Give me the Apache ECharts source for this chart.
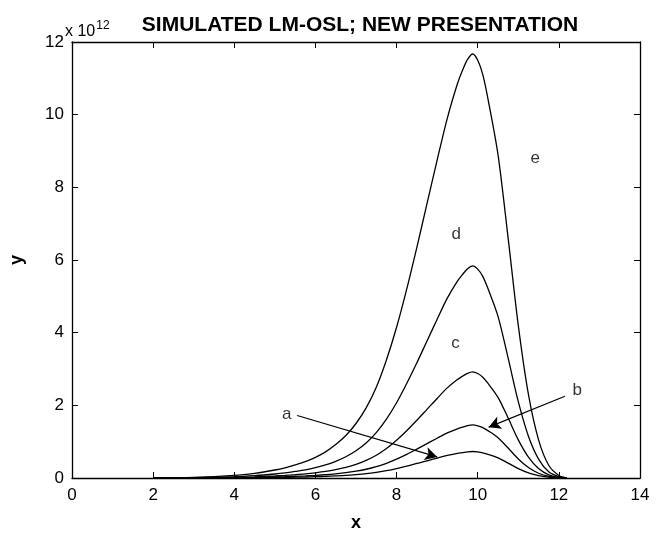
<!DOCTYPE html>
<html><head><meta charset="utf-8">
<script src="https://cdn.jsdelivr.net/npm/echarts@6/dist/echarts.min.js"></script>
<style>html,body{margin:0;padding:0;background:#fff}#c{width:659px;height:537px}</style>
</head><body><div id="c"></div>
<script>
// x positions (shared by all curves)
const xs = [2, 3, 4, 4.5, 5, 5.25, 5.5, 5.75, 6, 6.25, 6.5, 6.75, 7, 7.25, 7.5, 7.75, 8, 8.25, 8.5, 8.75, 9, 9.25, 9.5, 9.625, 9.75, 9.875, 10, 10.125, 10.25, 10.5, 10.75, 11, 11.25, 11.5, 11.75, 12, 12.2];
// y values in units of 10^12
const curveE = [0, 0.015, 0.07, 0.13, 0.22, 0.28, 0.36, 0.45, 0.57, 0.72, 0.92, 1.17, 1.5, 1.93, 2.5, 3.25, 4.15, 5.2, 6.35, 7.55, 8.75, 9.9, 10.85, 11.22, 11.52, 11.67, 11.5, 11.1, 10.45, 8.9, 6.6, 4.2, 2.3, 1.05, 0.35, 0.07, 0];
const curveD = [0, 0.008, 0.035, 0.065, 0.11, 0.14, 0.18, 0.225, 0.285, 0.36, 0.46, 0.585, 0.75, 0.965, 1.25, 1.62, 2.07, 2.6, 3.17, 3.77, 4.37, 4.95, 5.42, 5.6, 5.76, 5.84, 5.75, 5.55, 5.22, 4.45, 3.3, 2.1, 1.15, 0.52, 0.17, 0.035, 0];
const curveC = [0, 0.004, 0.018, 0.033, 0.055, 0.07, 0.09, 0.113, 0.143, 0.18, 0.23, 0.293, 0.375, 0.483, 0.625, 0.81, 1.04, 1.3, 1.59, 1.89, 2.19, 2.48, 2.71, 2.8, 2.88, 2.92, 2.875, 2.775, 2.61, 2.22, 1.65, 1.05, 0.575, 0.26, 0.085, 0.018, 0];
const curveB = [0, 0.002, 0.009, 0.016, 0.028, 0.035, 0.045, 0.056, 0.071, 0.09, 0.115, 0.146, 0.188, 0.241, 0.313, 0.405, 0.52, 0.65, 0.795, 0.945, 1.095, 1.24, 1.355, 1.4, 1.44, 1.46, 1.437, 1.387, 1.305, 1.11, 0.825, 0.525, 0.288, 0.13, 0.043, 0.009, 0];
const curveA = [0, 0.001, 0.0045, 0.008, 0.014, 0.018, 0.023, 0.028, 0.036, 0.045, 0.058, 0.073, 0.094, 0.12, 0.156, 0.2, 0.26, 0.325, 0.4, 0.47, 0.55, 0.62, 0.68, 0.7, 0.72, 0.73, 0.718, 0.693, 0.65, 0.555, 0.41, 0.26, 0.144, 0.065, 0.022, 0.005, 0];
// annotation labels [text, x, y]
const labels = [['a', 5.29, 1.75], ['b', 12.45, 2.4], ['c', 9.45, 3.71], ['d', 9.47, 6.7], ['e', 11.42, 8.8]];
// arrows [fromX, fromY, toX, toY]
const arrows = [[5.55, 1.72, 9.0, 0.58], [12.15, 2.25, 10.27, 1.4]];
const xTicks = {min: 0, max: 14, interval: 2};
const yTicks = {min: 0, max: 12, interval: 2};

const FONT = 'Liberation Sans, Arial, Helvetica, sans-serif';
const chart = echarts.init(document.getElementById('c'));
function pts(ys){ return xs.map((x,i)=>[x, ys[i]]); }
function curve(name, ys){
  return {name, type:'line', data: pts(ys), showSymbol:false, smooth:0.3,
    lineStyle:{color:'#000', width:1.3}, xAxisIndex:0, yAxisIndex:0, animation:false, silent:true, z:3};
}
const axisCommon = {
  axisLine:{show:true, onZero:false, lineStyle:{color:'#000', width:1.3}},
  axisTick:{show:true, inside:true, length:6, lineStyle:{color:'#000', width:1}},
  splitLine:{show:false}
};
const option = {
  backgroundColor:'#fff',
  animation:false,
  title:{text:'SIMULATED LM-OSL; NEW PRESENTATION', left:355, top:10, textAlign:'center',
    textStyle:{fontFamily:FONT, fontSize:21, fontWeight:'bold', color:'#000'}},
  grid:{left:71, right:19, top:42, bottom:49},
  xAxis:[
    Object.assign({type:'value', position:'bottom', min:xTicks.min, max:xTicks.max, interval:xTicks.interval,
      name:'x', nameLocation:'middle', nameGap:36,
      nameTextStyle:{fontFamily:FONT, fontSize:18, fontWeight:'bold', color:'#000'},
      axisLabel:{fontFamily:FONT, fontSize:17, color:'#000', margin:9}}, axisCommon),
    Object.assign({type:'value', position:'top', min:xTicks.min, max:xTicks.max, interval:xTicks.interval,
      axisLabel:{show:false}}, axisCommon)
  ],
  yAxis:[
    Object.assign({type:'value', position:'left', min:yTicks.min, max:yTicks.max, interval:yTicks.interval,
      name:'y', nameLocation:'middle', nameGap:46, nameRotate:90,
      nameTextStyle:{fontFamily:FONT, fontSize:18, fontWeight:'bold', color:'#000'},
      axisLabel:{fontFamily:FONT, fontSize:17, color:'#000', margin:8}}, axisCommon),
    Object.assign({type:'value', position:'right', min:yTicks.min, max:yTicks.max, interval:yTicks.interval,
      axisLabel:{show:false}}, axisCommon)
  ],
  graphic:[{type:'text', left:65, top:20, style:{
    text:'{b|x 10}{s|12}', fill:'#000',
    rich:{b:{fontFamily:FONT, fontSize:16, fill:'#000', padding:[6,0,0,0]}, s:{fontFamily:FONT, fontSize:12, fill:'#000', padding:[0,0,6,1]}}}}],
  series:[
    curve('e', curveE), curve('d', curveD), curve('c', curveC), curve('b', curveB), curve('a', curveA),
    {type:'scatter', data: labels.map(l=>({value:[l[1], l[2]], name:l[0]})), symbolSize:0, silent:true,
      label:{show:true, position:'inside', formatter:p=>p.name, fontFamily:FONT, fontSize:17, color:'#000'}, z:5},
    {type:'line', data:[], silent:true,
      markLine:{silent:true, animation:false, symbol:['none','arrow'], symbolSize:[10,12],
        label:{show:false}, lineStyle:{type:'solid', color:'#000', width:1.2},
        data: arrows.map(a=>[{coord:[a[0],a[1]]},{coord:[a[2],a[3]]}])}}
  ]
};
chart.setOption(option);
</script></body></html>
